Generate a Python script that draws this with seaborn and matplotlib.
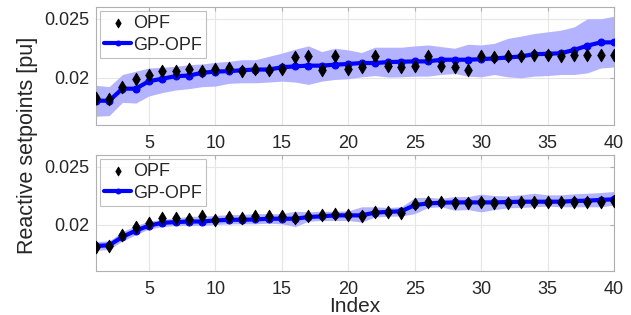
import numpy as np
import pandas as pd
import seaborn as sns
import matplotlib.pyplot as plt

# ==========================================
# DATA
# ==========================================
index = list(range(1, 41))

# top panel
opf_top = [0.01825, 0.01819, 0.01925, 0.01994, 0.02022, 0.02056, 0.02061, 0.02075, 0.02056, 0.02075,
           0.02081, 0.02061, 0.02075, 0.02070, 0.02078, 0.02175, 0.02181, 0.02070, 0.02186, 0.02078,
           0.02089, 0.02186, 0.02103, 0.02092, 0.02103, 0.02186, 0.02103, 0.02092, 0.02070, 0.02181,
           0.02175, 0.02186, 0.02186, 0.02195, 0.02195, 0.02186, 0.02195, 0.02195, 0.02195, 0.02195]
gp_top = [0.01806, 0.01806, 0.01908, 0.01908, 0.01972, 0.01992, 0.02014, 0.02019, 0.02042, 0.02053,
          0.02056, 0.02064, 0.02070, 0.02070, 0.02089, 0.02097, 0.02103, 0.02103, 0.02111, 0.02117,
          0.02125, 0.02125, 0.02133, 0.02136, 0.02139, 0.02139, 0.02153, 0.02153, 0.02153, 0.02158,
          0.02164, 0.02172, 0.02181, 0.02200, 0.02203, 0.02208, 0.02236, 0.02272, 0.02300, 0.02300]
gp_top_hi = [0.01936, 0.01925, 0.02028, 0.02056, 0.02083, 0.02089, 0.02097, 0.02111, 0.02117, 0.02131,
             0.02139, 0.02153, 0.02153, 0.02181, 0.02209, 0.02242, 0.02270, 0.02222, 0.02250, 0.02236,
             0.02214, 0.02259, 0.02259, 0.02259, 0.02270, 0.02278, 0.02264, 0.02250, 0.02284, 0.02278,
             0.02292, 0.02334, 0.02353, 0.02375, 0.02389, 0.02403, 0.02431, 0.02500, 0.02500, 0.02520]
gp_top_lo = [0.01675, 0.01680, 0.01792, 0.01786, 0.01847, 0.01875, 0.01897, 0.01908, 0.01925, 0.01930,
             0.01953, 0.01958, 0.01958, 0.01964, 0.01972, 0.01964, 0.01944, 0.01972, 0.01986, 0.01992,
             0.02008, 0.02019, 0.02006, 0.02008, 0.02014, 0.02014, 0.02028, 0.02036, 0.02014, 0.02008,
             0.02028, 0.02008, 0.02000, 0.02014, 0.02019, 0.02028, 0.02028, 0.02042, 0.02083, 0.02092]

# bottom panel
opf_bot = [0.01809, 0.01815, 0.01909, 0.01976, 0.02015, 0.02056, 0.02056, 0.02050, 0.02071, 0.02041,
           0.02065, 0.02056, 0.02071, 0.02074, 0.02074, 0.02059, 0.02074, 0.02085, 0.02088, 0.02086,
           0.02074, 0.02109, 0.02109, 0.02103, 0.02176, 0.02191, 0.02191, 0.02188, 0.02188, 0.02191,
           0.02188, 0.02188, 0.02197, 0.02191, 0.02191, 0.02191, 0.02197, 0.02197, 0.02191, 0.02203]
gp_bot = [0.01815, 0.01821, 0.01894, 0.01947, 0.01991, 0.02015, 0.02021, 0.02026, 0.02026, 0.02035,
          0.02041, 0.02041, 0.02044, 0.02050, 0.02050, 0.02050, 0.02065, 0.02071, 0.02079, 0.02079,
          0.02079, 0.02103, 0.02109, 0.02115, 0.02168, 0.02182, 0.02188, 0.02191, 0.02191, 0.02191,
          0.02191, 0.02194, 0.02197, 0.02197, 0.02197, 0.02197, 0.02203, 0.02206, 0.02212, 0.02218]
gp_bot_hi = [0.01853, 0.01859, 0.01938, 0.01991, 0.02029, 0.02044, 0.02056, 0.02071, 0.02071, 0.02079,
             0.02085, 0.02088, 0.02094, 0.02094, 0.02094, 0.02115, 0.02109, 0.02115, 0.02115, 0.02118,
             0.02153, 0.02153, 0.02147, 0.02153, 0.02232, 0.02235, 0.02226, 0.02241, 0.02241, 0.02262,
             0.02250, 0.02247, 0.02256, 0.02270, 0.02256, 0.02256, 0.02265, 0.02270, 0.02276, 0.02285]
gp_bot_lo = [0.01777, 0.01785, 0.01859, 0.01912, 0.01962, 0.01982, 0.01991, 0.01991, 0.01991, 0.02000,
             0.02006, 0.02006, 0.02006, 0.02012, 0.02006, 0.01982, 0.02029, 0.02035, 0.02035, 0.02035,
             0.02021, 0.02065, 0.02071, 0.02074, 0.02094, 0.02147, 0.02153, 0.02124, 0.02129, 0.02109,
             0.02129, 0.02144, 0.02147, 0.02153, 0.02159, 0.02153, 0.02153, 0.02153, 0.02153, 0.02168]

panels = [(opf_top, gp_top, gp_top_lo, gp_top_hi),
          (opf_bot, gp_bot, gp_bot_lo, gp_bot_hi)]

# ==========================================
# PLOT
# ==========================================
sns.set_style('white')
plt.rcParams['font.family'] = ['Liberation Sans', 'DejaVu Sans']
text_col = '#262626'

fig = plt.figure(figsize=(6.31, 3.15), dpi=100)
ax_top = fig.add_axes([0.152, 0.603, 0.821, 0.375])
ax_bot = fig.add_axes([0.152, 0.140, 0.821, 0.368])

for ax, (opf, gp, lo, hi) in zip([ax_top, ax_bot], panels):
    df = pd.DataFrame({'Index': index, 'OPF': opf, 'GP': gp, 'lo': lo, 'hi': hi})
    ax.fill_between(df['Index'], df['lo'], df['hi'], color=(0.7, 0.7, 1.0), linewidth=0, zorder=1)
    sns.scatterplot(data=df, x='Index', y='OPF', ax=ax, marker='d', s=42, color='black',
                    edgecolor='black', linewidth=0.6, label='OPF', zorder=4)
    sns.lineplot(data=df, x='Index', y='GP', ax=ax, color='blue', linewidth=3, marker='o',
                 markersize=5, markeredgecolor='blue', label='GP-OPF', zorder=3)

    ax.set_xlim(1, 40)
    ax.set_ylim(0.016, 0.026)
    ax.set_xticks([5, 10, 15, 20, 25, 30, 35, 40])
    ax.set_yticks([0.02, 0.025])
    ax.set_yticklabels(['0.02', '0.025'])
    ax.grid(True, color='#e6e6e6', linewidth=0.8)
    ax.set_axisbelow(True)
    for sp in ax.spines.values():
        sp.set_color('#b0b0b0')
        sp.set_linewidth(0.8)
    ax.tick_params(direction='in', length=3, color='#b0b0b0', labelsize=13,
                   labelcolor=text_col, top=True, right=True, pad=5)
    ax.tick_params(axis='x', pad=7)
    ax.set_ylabel('')
    ax.set_xlabel('')
    leg = ax.legend(loc='upper left', fontsize=13, frameon=True, fancybox=False,
                    handlelength=1.5, handletextpad=0.1, borderpad=0.25, labelspacing=0.25,
                    borderaxespad=0.2, markerscale=0.7)
    leg.get_frame().set_edgecolor('#b0b0b0')
    leg.get_frame().set_linewidth(0.8)
    for t in leg.get_texts():
        t.set_color(text_col)

ax_bot.set_xlabel('Index', fontsize=15, color=text_col, va='center')
ax_bot.xaxis.set_label_coords(0.5, -0.31)
fig.text(0.043, 0.54, 'Reactive setpoints [pu]', rotation=90, va='center', ha='center',
         fontsize=15.5, color=text_col)

plt.savefig('out.png', dpi=100)
